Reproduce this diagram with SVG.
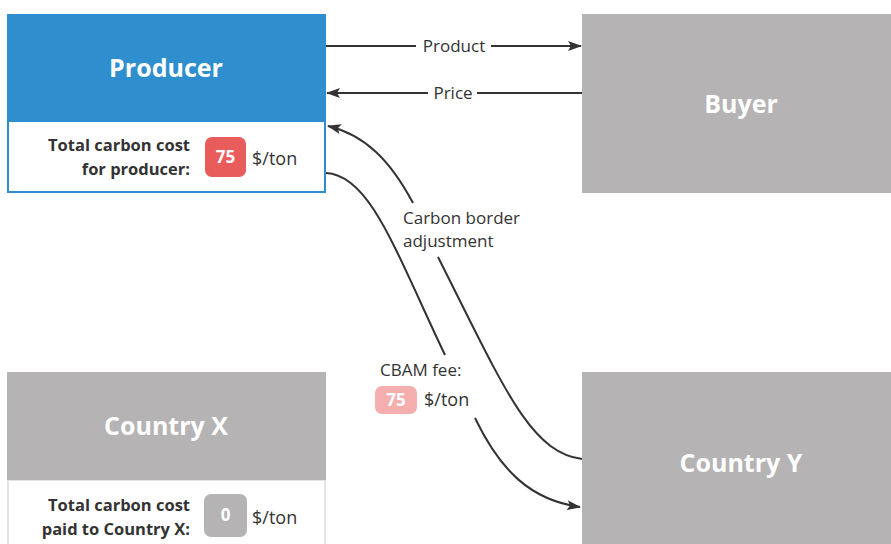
<svg xmlns="http://www.w3.org/2000/svg" width="891" height="544" viewBox="0 0 891 544">
<defs>
<marker id="ah" viewBox="0 0 14 10" refX="13" refY="5" markerWidth="14" markerHeight="10" markerUnits="userSpaceOnUse" orient="auto">
<path d="M0,0 L14,5 L0,10 L3,5 z" fill="#333"/>
</marker>
<style>
.t{font-family:"Open Sans","Liberation Sans",sans-serif;}
.title{font-size:25px;font-weight:bold;fill:#fff;text-anchor:middle;}
.lbl{font-size:17px;fill:#333;}
.unit{font-size:18px;fill:#333;}
.bl{font-size:16.5px;font-weight:bold;fill:#333;text-anchor:end;}
.num{font-size:17px;font-weight:bold;fill:#fff;text-anchor:middle;}
.gray{fill:#b5b3b4;}
.ln{fill:none;stroke:#333;stroke-width:2;}
</style>
</defs>
<rect width="891" height="544" fill="#fff"/>
<g id="producer">
<rect x="8" y="121" width="317" height="71" fill="#fff" stroke="#2f8fce" stroke-width="2"/>
<rect x="7" y="14" width="319" height="108" fill="#2f8fce"/>
<text class="t title" x="166" y="77">Producer</text>
<text class="t bl" x="190" y="151">Total carbon cost</text>
<text class="t bl" x="190" y="175">for producer:</text>
<rect x="205" y="137" width="41" height="40" rx="7" fill="#e85c5c"/>
<text class="t num" x="225.5" y="163">75</text>
<text class="t unit" x="252" y="165">$/ton</text>
</g>
<g id="buyer">
<rect class="gray" x="582" y="14" width="309" height="179"/>
<text class="t title" x="741" y="113">Buyer</text>
</g>
<g id="countryx">
<rect x="8" y="480" width="317" height="70" fill="#fff" stroke="#dcdcdc" stroke-width="1.5"/>
<rect class="gray" x="7" y="372" width="319" height="108"/>
<text class="t title" x="166" y="435">Country X</text>
<text class="t bl" x="190" y="511">Total carbon cost</text>
<text class="t bl" x="190" y="535">paid to Country X:</text>
<rect x="204" y="494" width="43" height="43" rx="7" fill="#b5b3b4"/>
<text class="t num" x="225.5" y="521">0</text>
<text class="t unit" x="252" y="524">$/ton</text>
</g>
<g id="countryy">
<rect class="gray" x="582" y="372" width="309" height="172"/>
<text class="t title" x="741" y="472">Country Y</text>
</g>
<g id="connectors">
<path class="ln" d="M326,46 H416"/>
<path class="ln" d="M491,46 H581" marker-end="url(#ah)"/>
<text class="t lbl" x="454" y="52" text-anchor="middle">Product</text>
<path class="ln" d="M582,93 H477"/>
<path class="ln" d="M428,93 H327" marker-end="url(#ah)"/>
<text class="t lbl" x="453" y="99" text-anchor="middle">Price</text>
<path class="ln" d="M582,459 C530,452 505,390 438,257"/>
<path class="ln" d="M413,203 C390,160 365,135 328,126" marker-end="url(#ah)"/>
<text class="t lbl" x="403" y="224">Carbon border</text>
<text class="t lbl" x="403" y="247">adjustment</text>
<path class="ln" d="M326,173 C370,175 395,250 445,355"/>
<path class="ln" d="M475,418 C500,470 530,500 580,507" marker-end="url(#ah)"/>
<text class="t lbl" x="380" y="376">CBAM fee:</text>
<rect x="375" y="386" width="42" height="28" rx="7" fill="#f4aeae"/>
<text class="t num" x="396" y="406">75</text>
<text class="t unit" x="424" y="406">$/ton</text>
</g>
</svg>
